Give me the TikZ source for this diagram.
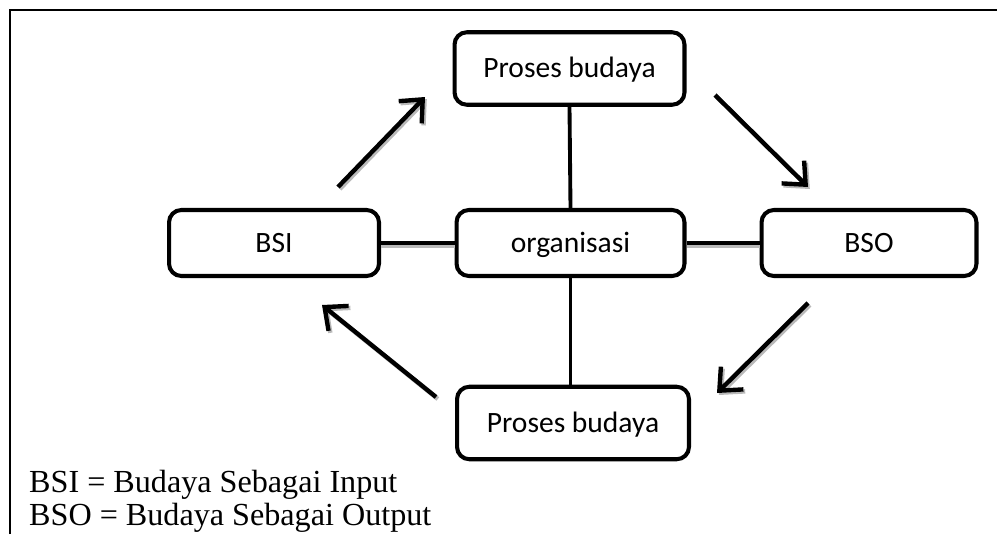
\documentclass[tikz,border=0pt]{standalone}
\usepackage{fontspec}
\setmainfont{Liberation Serif}
\newfontfamily\boxfont{Carlito}
\usetikzlibrary{arrows.meta,positioning}

\begin{document}
\begin{tikzpicture}[
  x=0.02cm, y=-0.02cm,
  every node/.style={font=\boxfont\fontsize{16.8}{20}\selectfont},
  culturebox/.style={draw, line width=2.3pt, rounded corners=7pt,
               minimum height=1.45cm, align=center,
               text height=13.2pt, text depth=2.8pt},
  flowarrow/.style={line width=2.5pt, -{Straight Barb[length=3.6mm,width=6.4mm]}},
  arrowshadow/.style={flowarrow, draw=gray!55},
  linkline/.style={line width=2.2pt},
  linkshadow/.style={line width=2.2pt, draw=gray!55}
]
\useasboundingbox (0,0) rectangle (997,534);

% frame
\draw[line width=1.2pt] (10,534) -- (10,10) -- (997,10);

% boxes
\node[culturebox, minimum width=4.6cm] (prosesatas) at (569.5,68.5) {Proses budaya};
\node[culturebox, minimum width=4.2cm, minimum height=1.32cm] (bsi) at (274,243) {BSI};
\node[culturebox, minimum width=4.56cm, minimum height=1.32cm] (org) at (570.5,243) {organisasi};
\node[culturebox, minimum width=4.3cm, minimum height=1.32cm] (bso) at (869,243) {BSO};
\node[culturebox, minimum width=4.64cm] (prosesbawah) at (573,423) {Proses budaya};

% links to the centre (gray shadow first)
\draw[linkshadow] ([yshift=-1.8pt]bsi.east) -- ([yshift=-1.8pt]org.west);
\draw[linkshadow] ([yshift=-1.8pt]org.east) -- ([yshift=-1.8pt]bso.west);
\draw[linkline] (bsi) -- (org);
\draw[linkline] (org) -- (bso);
\draw[linkline] (prosesatas.south) -- (org.north);
\draw[linkline] (org.south) -- (prosesbawah.north -| org.south);

% cycle arrows
\coordinate (a1s) at (338,187); \coordinate (a1e) at (425,97);
\coordinate (a2s) at (715,95);  \coordinate (a2e) at (808,187);
\coordinate (a3s) at (808,303); \coordinate (a3e) at (717,393);
\coordinate (a4s) at (436,397); \coordinate (a4e) at (322,305);
\foreach \s/\e in {a1s/a1e, a2s/a2e, a3s/a3e, a4s/a4e}{
  \draw[arrowshadow] ([shift={(1.8,2)}]\s) -- ([shift={(1.8,2)}]\e);
  \draw[flowarrow] (\s) -- (\e);
}

% legend
\node[font=\rmfamily\fontsize{18.3}{22}\selectfont, anchor=base west] (legend1) at (23,492)
  {BSI = Budaya Sebagai Input};
\node[font=\rmfamily\fontsize{18.3}{22}\selectfont, anchor=base west] (legend2) at (23,525)
  {BSO = Budaya Sebagai Output};

\end{tikzpicture}
\end{document}
